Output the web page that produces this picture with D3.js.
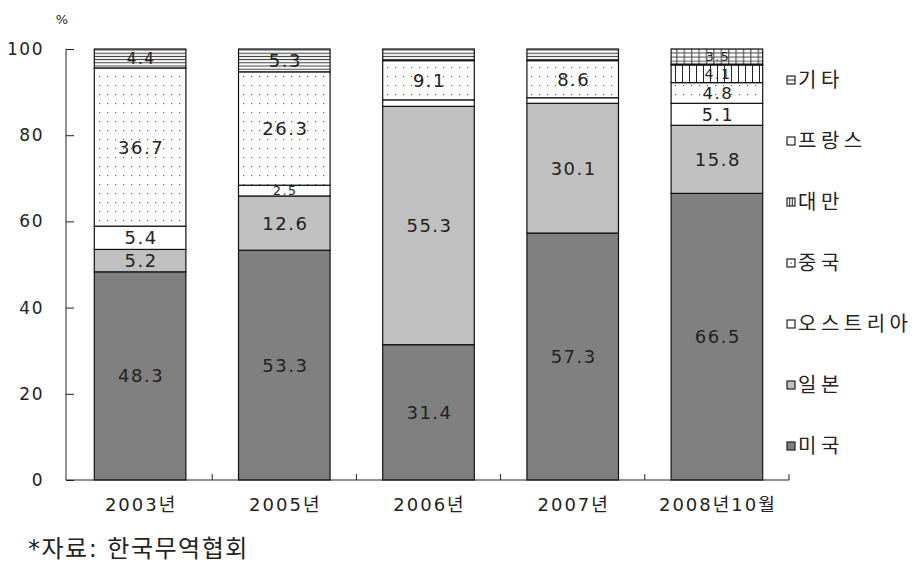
<!DOCTYPE html>
<html><head><meta charset="utf-8">
<script src="https://cdn.jsdelivr.net/npm/d3@7"></script>
<style>
body{margin:0;background:#fff;}
text{font-family:"DejaVu Sans","Noto Sans CJK KR",sans-serif;fill:#222;}
</style></head>
<body><svg id="c" width="921" height="586"></svg>
<script>
const categories = ["2003년","2005년","2006년","2007년","2008년10월"];
const seriesNames = ["미국","일본","오스트리아","중국","대만","프랑스","기타"];
const v미국 = [48.3, 53.3, 31.4, 57.3, 66.5];
const v일본 = [5.2, 12.6, 55.3, 30.1, 15.8];
const v오스트리아 = [5.4, 2.5, 1.5, 1.3, 5.1];
const v중국 = [36.7, 26.3, 9.1, 8.6, 4.8];
const v대만 = [0, 0, 0, 0, 4.1];
const v프랑스 = [0, 0, 0, 0, 0.2];
const v기타 = [4.4, 5.3, 2.7, 2.7, 3.5];
const yTicks = [0, 20, 40, 60, 80, 100];
const unlabeled = [["2006년","오스트리아"],["2006년","기타"],["2007년","오스트리아"],["2007년","기타"],["2008년10월","프랑스"]];
const sourceNote = "*자료: 한국무역협회";

const valuesBySeries = {"미국":v미국,"일본":v일본,"오스트리아":v오스트리아,"중국":v중국,"대만":v대만,"프랑스":v프랑스,"기타":v기타};
const table = categories.map((c,i)=>{const o={cat:c}; seriesNames.forEach(s=>o[s]=valuesBySeries[s][i]); return o;});

const svg = d3.select("#c");
const defs = svg.append("defs");
const pDots = defs.append("pattern").attr("id","dots").attr("patternUnits","userSpaceOnUse").attr("width",8).attr("height",9);
pDots.append("rect").attr("width",8).attr("height",9).attr("fill","#fff");
pDots.append("rect").attr("x",3).attr("y",4).attr("width",1.2).attr("height",1.2).attr("fill","#666");
const pH = defs.append("pattern").attr("id","hlines").attr("patternUnits","userSpaceOnUse").attr("width",8).attr("height",3.2);
pH.append("rect").attr("width",8).attr("height",3.2).attr("fill","#fff");
pH.append("rect").attr("y",1.5).attr("width",8).attr("height",1).attr("fill","#333");
const pV = defs.append("pattern").attr("id","vlines").attr("patternUnits","userSpaceOnUse").attr("width",7).attr("height",8);
pV.append("rect").attr("width",7).attr("height",8).attr("fill","#fff");
pV.append("rect").attr("x",3).attr("width",1).attr("height",8).attr("fill","#222");
const pG = defs.append("pattern").attr("id","grid").attr("patternUnits","userSpaceOnUse").attr("width",7.4).attr("height",4.2);
pG.append("rect").attr("width",7.4).attr("height",4.2).attr("fill","#fff");
pG.append("rect").attr("x",3).attr("width",1).attr("height",4.2).attr("fill","#333");
pG.append("rect").attr("y",2).attr("width",7.4).attr("height",1).attr("fill","#555");

const fills = {"미국":"#808080","일본":"#c0c0c0","오스트리아":"#fff","중국":"url(#dots)","대만":"url(#vlines)","프랑스":"#fff","기타":"url(#hlines)"};

const x = d3.scaleBand().domain(categories).range([68,789]).paddingInner(0).paddingOuter(0);
const y = d3.scaleLinear().domain([0,100]).range([480,49]);
const barW = x.bandwidth()*0.635;

const stack = d3.stack().keys(seriesNames)(table);

const g = svg.append("g");
stack.forEach(layer=>{
  const s = layer.key;
  layer.forEach((d,i)=>{
    const val = d[1]-d[0];
    if(val<=0) return;
    const cat = categories[i];
    let fill = fills[s];
    if(s==="기타" && table[i]["대만"]>0) fill = "url(#grid)";
    g.append("rect")
      .attr("x", x(cat)+(x.bandwidth()-barW)/2)
      .attr("y", y(d[1]))
      .attr("width", barW)
      .attr("height", y(d[0])-y(d[1]))
      .attr("fill", fill)
      .attr("stroke","#111").attr("stroke-width",1.2);
  });
});
stack.forEach(layer=>{
  const s = layer.key;
  layer.forEach((d,i)=>{
    const val = d[1]-d[0];
    const cat = categories[i];
    if(val<=0) return;
    if(unlabeled.some(u=>u[0]===cat && u[1]===s)) return;
    const h = y(d[0])-y(d[1]);
    g.append("text")
      .attr("x", x(cat)+x.bandwidth()/2+1)
      .attr("y", (y(d[0])+y(d[1]))/2)
      .attr("dy","0.36em")
      .attr("text-anchor","middle")
      .attr("font-size",Math.min(18, Math.max(12.5, h*0.8)))
      .attr("letter-spacing",1.5)
      .text(d3.format(".1f")(val));
  });
});

const yAxis = d3.axisLeft(y).tickValues(yTicks).tickSize(-8).tickPadding(22).tickFormat(d3.format("d"));
const ya = svg.append("g").attr("transform","translate(66,0)").call(yAxis);
ya.select(".domain").attr("stroke","#222").attr("d","M0,49V480");
ya.selectAll("line").attr("stroke","#222");
ya.selectAll("text").attr("font-size",17).attr("letter-spacing",1.5).attr("fill","#222");
svg.append("text").attr("x",62).attr("y",24).attr("font-size",13).attr("text-anchor","middle").text("%");

const xa = svg.append("g").attr("transform","translate(0,480)");
xa.append("line").attr("x1",66).attr("x2",789).attr("stroke","#222");
const bounds = categories.map(c=>x(c)+x.bandwidth());
xa.selectAll("line.t").data(bounds).join("line").attr("class","t")
  .attr("x1",d=>d).attr("x2",d=>d).attr("y1",0).attr("y2",-6).attr("stroke","#222");
xa.selectAll("text").data(categories).join("text")
  .attr("x",d=>x(d)+x.bandwidth()/2+1).attr("y",31)
  .attr("text-anchor","middle").attr("font-size",18).attr("letter-spacing",2)
  .text(d=>d);

const legendOrder = seriesNames.slice().reverse();
const lg = svg.append("g");
legendOrder.forEach((s,i)=>{
  const cy = 80 + i*61;
  let fill = fills[s];
  lg.append("rect").attr("x",787).attr("y",cy-4).attr("width",8).attr("height",8)
    .attr("fill", (s==="기타"||s==="대만"||s==="중국")?"#fff":fill)
    .attr("stroke","#222").attr("stroke-width",1.2);
  if(s==="기타") lg.append("line").attr("x1",787).attr("x2",795).attr("y1",cy).attr("y2",cy).attr("stroke","#222");
  if(s==="대만"){ [789.7,792.3].forEach(xx=>lg.append("line").attr("x1",xx).attr("x2",xx).attr("y1",cy-4).attr("y2",cy+4).attr("stroke","#222"));}
  if(s==="중국") lg.append("rect").attr("x",790.5).attr("y",cy-0.5).attr("width",1.2).attr("height",1.2).attr("fill","#222");
  lg.append("text").attr("x",798).attr("y",cy).attr("dy","0.36em")
    .attr("font-size",20).attr("letter-spacing",4.5).text(s);
});

svg.append("text").attr("x",28).attr("y",557).attr("font-size",24).attr("letter-spacing",1.5)
  .attr("font-family","'Noto Serif CJK KR','Noto Sans CJK KR',serif").text(sourceNote);
</script></body></html>
